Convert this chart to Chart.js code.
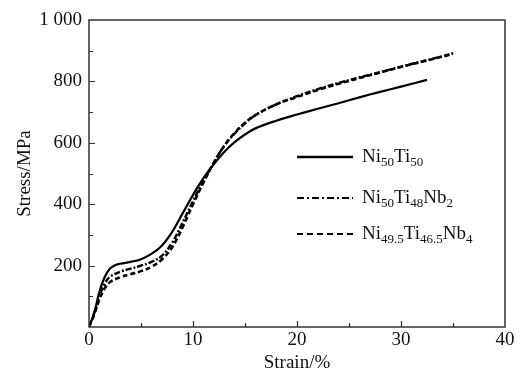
<!DOCTYPE html>
<html>
<head>
<meta charset="utf-8">
<script src="https://cdn.jsdelivr.net/npm/chart.js@4/dist/chart.umd.min.js"></script>
<style>
  html, body { margin: 0; padding: 0; background: #fff; }
  #wrap { width: 520px; height: 374px; }
</style>
</head>
<body>
<div id="wrap"><canvas id="stress-chart" width="520" height="374"></canvas></div>
<script>
const strainNiTi = [0, 0.5, 1, 1.5, 2, 2.5, 3, 4, 5, 6, 7, 8, 9, 10, 11, 12, 13, 14, 15, 16, 18, 20, 22, 24, 26, 28, 30, 32.5];
const stressNiTi = [0, 45, 115, 162, 190, 201, 206, 212, 221, 238, 265, 310, 370, 430, 485, 530, 570, 602, 627, 647, 672, 692, 711, 729, 748, 766, 783, 805];

const strainNb2 = [0, 0.5, 1, 1.5, 2, 3, 4, 5, 6, 7, 8, 9, 10, 11, 12, 13, 14, 15, 16, 18, 20, 22, 24, 26, 28, 30, 32, 34, 35];
const stressNb2 = [0, 45, 100, 140, 163, 180, 190, 200, 212, 232, 275, 340, 410, 475, 535, 590, 630, 663, 690, 725, 752, 775, 795, 813, 830, 848, 865, 882, 892];

const strainNb4 = [0, 0.5, 1, 1.5, 2, 3, 4, 5, 6, 7, 8, 9, 10, 11, 12, 13, 14, 15, 16, 18, 20, 22, 24, 26, 28, 30, 32, 34, 35];
const stressNb4 = [0, 40, 90, 125, 146, 162, 172, 182, 196, 220, 260, 325, 400, 470, 535, 590, 632, 665, 690, 725, 749, 772, 792, 811, 829, 847, 864, 881, 890];

const xTicks = [0, 10, 20, 30, 40];
const yTicks = [200, 400, 600, 800, 1000];

const serif = "'Liberation Serif', 'Times New Roman', serif";

// legend entries: [base, sub] pairs
const legendItems = [
  { dash: [], parts: [["Ni", "50"], ["Ti", "50"]] },
  { dash: [7, 3, 2, 3], parts: [["Ni", "50"], ["Ti", "48"], ["Nb", "2"]] },
  { dash: [6, 4], parts: [["Ni", "49.5"], ["Ti", "46.5"], ["Nb", "4"]] },
];

function toPoints(xs, ys) {
  return xs.map((x, i) => ({ x: x, y: ys[i] }));
}

// inward ticks on the bottom and left axes, major and minor
const innerTicks = {
  id: "innerTicks",
  afterDraw(chart) {
    const ctx = chart.ctx;
    const xs = chart.scales.x;
    const ys = chart.scales.y;
    const area = chart.chartArea;
    ctx.save();
    ctx.strokeStyle = "#333";
    ctx.lineWidth = 1.2;
    ctx.beginPath();
    for (let v = 5; v < 40; v += 5) {
      const px = Math.round(xs.getPixelForValue(v)) + 0.5;
      const len = v % 10 === 0 ? 6 : 4;
      ctx.moveTo(px, area.bottom);
      ctx.lineTo(px, area.bottom - len);
    }
    for (let v = 100; v < 1000; v += 100) {
      const py = Math.round(ys.getPixelForValue(v)) + 0.5;
      const len = v % 200 === 0 ? 6 : 4;
      ctx.moveTo(area.left, py);
      ctx.lineTo(area.left + len, py);
    }
    ctx.stroke();
    ctx.strokeStyle = "#333";
    ctx.lineWidth = 1.5;
    ctx.strokeRect(area.left, area.top, area.right - area.left, area.bottom - area.top);
    ctx.restore();
  },
};

const customLegend = {
  id: "customLegend",
  afterDraw(chart) {
    const ctx = chart.ctx;
    const rows = [155, 196, 232];
    ctx.save();
    legendItems.forEach((item, i) => {
      const y = rows[i];
      ctx.strokeStyle = "#000";
      ctx.lineWidth = item.dash.length ? 2.2 : 2.4;
      ctx.setLineDash(item.dash);
      ctx.beginPath();
      ctx.moveTo(297, y + 2);
      ctx.lineTo(353, y + 2);
      ctx.stroke();
      ctx.setLineDash([]);
      ctx.fillStyle = "#111";
      ctx.textBaseline = "alphabetic";
      let x = 362;
      item.parts.forEach((p) => {
        ctx.font = "19px " + serif;
        ctx.fillText(p[0], x, y + 7);
        x += ctx.measureText(p[0]).width;
        ctx.font = "13px " + serif;
        ctx.fillText(p[1], x, y + 11);
        x += ctx.measureText(p[1]).width;
      });
    });
    ctx.restore();
  },
};

const ctx = document.getElementById("stress-chart").getContext("2d");
const Graph = new Chart(ctx, {
  type: "line",
  data: {
    datasets: [
      {
        label: "Ni50Ti50",
        data: toPoints(strainNiTi, stressNiTi),
        borderColor: "#000",
        borderWidth: 2.2,
        pointRadius: 0,
        tension: 0.4,
      },
      {
        label: "Ni50Ti48Nb2",
        data: toPoints(strainNb2, stressNb2),
        borderColor: "#000",
        borderWidth: 2.4,
        borderDash: [6, 2, 2, 2],
        pointRadius: 0,
        tension: 0.4,
      },
      {
        label: "Ni49.5Ti46.5Nb4",
        data: toPoints(strainNb4, stressNb4),
        borderColor: "#000",
        borderWidth: 2.6,
        borderDash: [5, 3],
        pointRadius: 0,
        tension: 0.4,
      },
    ],
  },
  options: {
    responsive: false,
    animation: false,
    layout: {
      padding: { left: 0, right: 15, top: 20, bottom: 0 },
    },
    scales: {
      x: {
        type: "linear",
        min: 0,
        max: 40,
        afterFit: (scale) => { scale.height = 47; },
        afterBuildTicks: (scale) => { scale.ticks = xTicks.map((v) => ({ value: v })); },
        grid: { display: false, drawTicks: false },
        border: { display: false },
        ticks: {
          padding: 2,
          color: "#111",
          font: { family: serif, size: 19 },
        },
        title: {
          display: true,
          text: "Strain/%",
          color: "#111",
          padding: { top: 0, bottom: 0 },
          font: { family: serif, size: 19 },
        },
      },
      y: {
        min: 0,
        max: 1000,
        afterFit: (scale) => { scale.width = 89; },
        afterBuildTicks: (scale) => { scale.ticks = yTicks.map((v) => ({ value: v })); },
        grid: { display: false, drawTicks: false },
        border: { display: false },
        ticks: {
          padding: 7,
          color: "#111",
          font: { family: serif, size: 19 },
          callback: (v) => (v === 1000 ? "1 000" : v),
        },
        title: {
          display: true,
          text: "Stress/MPa",
          color: "#111",
          padding: { top: 14, bottom: 0 },
          font: { family: serif, size: 19 },
        },
      },
    },
    plugins: {
      legend: { display: false },
      tooltip: { enabled: false },
    },
  },
  plugins: [innerTicks, customLegend],
});
</script>
</body>
</html>
